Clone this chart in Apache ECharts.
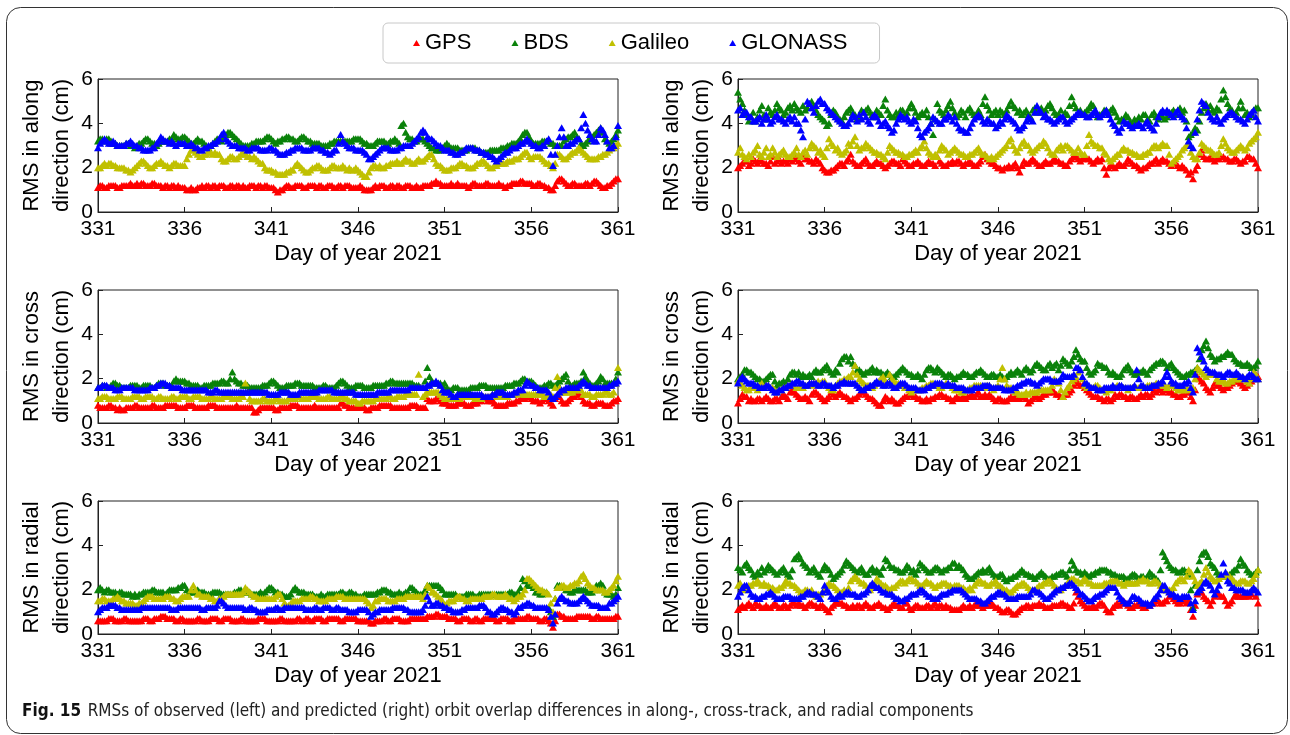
<!DOCTYPE html>
<html>
<head>
<meta charset="utf-8">
<title>Orbit overlap RMS</title>
<script src="https://cdn.jsdelivr.net/npm/echarts@6.0.0/dist/echarts.min.js"></script>
<style>
  html, body { margin: 0; padding: 0; background: #fff; }
  #chart { width: 1290px; height: 735px; }
</style>
</head>
<body>
<div id="chart"></div>
<script>
// epoch spacing in days (values start at DOY 331, 3-hourly)
var STEP = 0.125;
var dayTicks = ['331', '336', '341', '346', '351', '356', '361'];
var systems = ['GPS', 'BDS', 'Galileo', 'GLONASS'];
var sysColor = ['#ff0000', '#0a820a', '#c0c000', '#0000ff'];
var yNames = ['RMS in along\ndirection (cm)', 'RMS in cross\ndirection (cm)', 'RMS in radial\ndirection (cm)'];
var caption = 'RMSs of observed (left) and predicted (right) orbit overlap differences in along-, cross-track, and radial components';

// observed, along (cm)
var obsAlongGPS = [
  1.1,1.2,1.2,1.1,1.1,1.2,1.2,1.2,1.2,1.1,1.1,1.2,1.2,1.2,1.2,1.3,1.2,1.2,1.3,1.2,
  1.3,1.3,1.2,1.2,1.2,1.3,1.3,1.2,1.2,1.2,1.1,1.2,1.2,1.1,1.2,1.2,1.1,1.2,1.1,1.1,
  1.1,1.0,1.0,1.1,1.0,1.0,1.1,1.1,1.2,1.1,1.2,1.2,1.1,1.2,1.2,1.1,1.2,1.2,1.2,1.1,
  1.1,1.2,1.2,1.1,1.2,1.2,1.1,1.2,1.1,1.1,1.2,1.2,1.2,1.1,1.2,1.2,1.1,1.2,1.2,1.1,
  1.1,1.1,1.0,0.9,1.0,1.0,1.1,1.2,1.2,1.1,1.1,1.2,1.2,1.2,1.2,1.1,1.1,1.2,1.2,1.2,
  1.2,1.1,1.2,1.2,1.1,1.1,1.2,1.2,1.2,1.1,1.1,1.2,1.2,1.1,1.2,1.2,1.2,1.1,1.1,1.1,
  1.1,1.2,1.1,1.0,1.0,1.0,1.0,1.1,1.2,1.1,1.2,1.2,1.2,1.1,1.1,1.2,1.2,1.1,1.2,1.2,
  1.1,1.1,1.2,1.2,1.2,1.1,1.1,1.2,1.1,1.1,1.2,1.2,1.2,1.2,1.3,1.3,1.4,1.3,1.3,1.2,
  1.2,1.2,1.2,1.3,1.2,1.2,1.3,1.2,1.2,1.2,1.2,1.1,1.2,1.3,1.3,1.2,1.2,1.2,1.2,1.3,
  1.3,1.2,1.2,1.2,1.2,1.3,1.2,1.2,1.1,1.2,1.2,1.3,1.3,1.3,1.3,1.4,1.4,1.3,1.3,1.3,
  1.3,1.2,1.2,1.3,1.3,1.2,1.2,1.1,1.1,1.0,1.0,1.2,1.4,1.5,1.5,1.4,1.3,1.2,1.2,1.3,
  1.3,1.2,1.2,1.2,1.2,1.3,1.3,1.2,1.3,1.4,1.4,1.3,1.2,1.1,1.1,1.2,1.2,1.3,1.4,1.5,
  1.5];
var obsAlongBDS = [
  3.2,3.3,3.3,3.2,3.3,3.3,3.2,3.1,3.1,3.0,3.0,3.0,3.0,3.1,3.1,3.0,3.0,2.9,3.0,3.1,
  3.1,3.2,3.3,3.3,3.2,3.1,3.1,3.0,3.1,3.2,3.2,3.2,3.2,3.3,3.3,3.5,3.4,3.3,3.3,3.4,
  3.4,3.3,3.2,3.1,3.1,3.2,3.3,3.2,3.2,3.1,3.0,2.9,3.0,3.1,3.2,3.3,3.3,3.2,3.3,3.5,
  3.6,3.6,3.5,3.4,3.3,3.2,3.1,3.0,3.0,3.0,3.0,3.1,3.1,3.2,3.2,3.2,3.2,3.3,3.4,3.4,
  3.3,3.2,3.1,3.2,3.2,3.3,3.3,3.4,3.4,3.3,3.3,3.2,3.2,3.3,3.4,3.4,3.3,3.2,3.2,3.1,
  3.1,3.1,3.1,3.0,3.0,3.0,3.0,3.1,3.1,3.2,3.2,3.2,3.2,3.2,3.2,3.2,3.2,3.2,3.3,3.3,
  3.3,3.3,3.2,3.1,3.1,3.0,3.0,3.0,3.1,3.2,3.2,3.2,3.2,3.1,3.1,3.2,3.2,3.3,3.2,3.1,
  3.9,4.0,3.6,3.4,3.3,3.3,3.2,3.2,3.3,3.3,3.3,3.2,3.1,3.0,2.9,2.9,2.8,2.8,2.8,2.9,
  3.0,3.1,3.0,2.9,2.9,2.9,2.9,2.8,2.8,2.8,2.8,2.9,2.9,2.9,2.9,2.8,2.8,2.7,2.7,2.7,
  2.7,2.8,2.8,2.8,2.8,2.8,2.9,2.9,2.9,3.0,3.0,3.1,3.1,3.1,3.2,3.3,3.5,3.6,3.6,3.4,
  3.2,3.1,3.1,3.1,3.1,3.2,3.2,3.2,3.2,3.1,3.1,3.0,3.0,3.0,3.0,3.2,3.3,3.4,3.4,3.5,
  3.6,3.4,3.3,3.1,3.0,3.1,3.2,3.3,3.4,3.5,3.6,3.7,3.8,3.6,3.3,3.2,3.1,3.2,3.3,3.5,
  3.7];
var obsAlongGAL = [
  2.0,2.0,2.1,2.2,2.1,2.2,2.2,2.1,2.1,2.0,2.0,2.0,2.0,1.9,1.9,1.8,1.9,2.0,2.1,2.2,
  2.3,2.3,2.2,2.1,2.0,2.0,2.1,2.2,2.2,2.3,2.2,2.1,2.1,2.0,2.1,2.2,2.2,2.1,2.1,2.1,
  2.1,2.4,2.6,2.8,2.8,2.7,2.6,2.5,2.5,2.6,2.6,2.7,2.7,2.6,2.7,2.6,2.6,2.4,2.3,2.3,
  2.4,2.5,2.5,2.4,2.4,2.5,2.6,2.7,2.6,2.5,2.5,2.4,2.5,2.4,2.3,2.2,2.2,2.0,1.9,1.9,
  1.9,1.8,1.8,1.7,1.7,1.7,1.7,1.8,1.8,1.9,1.9,2.1,2.2,2.1,2.0,1.9,1.8,1.8,1.9,2.0,
  2.0,2.1,2.1,2.0,1.9,1.9,1.9,2.0,2.1,2.1,2.0,2.0,2.0,2.1,2.0,1.9,2.0,1.9,1.9,2.0,
  1.9,1.8,1.7,1.6,1.6,1.8,2.0,2.1,2.1,2.0,2.1,2.0,2.0,2.1,2.1,2.2,2.2,2.2,2.3,2.2,
  2.2,2.3,2.4,2.3,2.3,2.2,2.2,2.3,2.4,2.3,2.3,2.4,2.5,2.6,2.6,2.4,2.2,2.1,2.1,2.0,
  1.9,1.9,1.9,2.0,2.0,2.0,2.1,2.2,2.2,2.1,2.1,2.0,2.0,2.0,2.1,2.2,2.2,2.3,2.3,2.2,
  2.1,2.0,2.0,2.1,2.1,2.2,2.2,2.2,2.2,2.3,2.3,2.3,2.4,2.4,2.4,2.5,2.6,2.7,2.7,2.5,
  2.4,2.5,2.5,2.5,2.5,2.4,2.3,2.2,2.2,2.1,2.0,2.2,2.6,2.6,2.5,2.4,2.4,2.5,2.6,2.7,
  2.7,2.8,2.9,2.8,2.7,2.6,2.5,2.4,2.4,2.4,2.4,2.5,2.5,2.6,2.6,2.7,2.8,2.9,2.9,3.0,
  3.1];
var obsAlongGLO = [
  2.9,3.1,3.2,3.3,3.2,3.1,3.1,3.2,3.1,3.0,3.0,3.0,3.0,3.1,3.1,3.2,3.1,3.0,3.0,2.9,
  2.9,2.8,2.8,2.8,2.8,2.9,2.9,3.1,3.2,3.4,3.3,3.2,3.2,3.1,3.2,3.1,3.0,3.1,3.1,3.1,
  3.1,3.0,3.0,3.1,3.0,2.9,2.9,2.8,2.8,2.9,2.9,3.0,3.0,3.1,3.1,3.2,3.3,3.5,3.6,3.3,
  3.2,3.1,3.0,3.0,3.0,2.9,2.9,2.9,2.9,2.8,2.8,2.9,2.9,2.9,2.9,2.8,2.8,2.8,2.8,2.9,
  2.9,2.8,2.8,2.7,2.6,2.6,2.6,2.7,2.7,2.8,2.8,2.9,2.9,2.9,2.9,2.8,2.8,2.8,2.8,2.9,
  2.9,2.9,2.9,2.8,2.8,2.7,2.7,2.6,2.7,2.8,2.8,3.1,3.5,3.2,3.1,3.0,2.9,2.9,2.9,2.8,
  2.8,2.8,2.8,2.7,2.6,2.4,2.4,2.5,2.6,2.7,2.8,2.9,2.9,2.9,2.9,2.8,2.8,2.8,2.8,2.9,
  2.9,3.0,3.0,3.0,3.0,3.1,3.2,3.3,3.4,3.6,3.7,3.6,3.4,3.3,3.3,3.2,3.1,3.0,3.0,2.9,
  2.8,2.8,2.8,2.7,2.7,2.6,2.6,2.7,2.7,2.8,2.9,2.9,2.9,2.9,2.8,2.8,2.8,2.7,2.7,2.6,
  2.6,2.5,2.5,2.4,2.3,2.4,2.5,2.6,2.7,2.7,2.8,2.9,2.9,2.9,3.0,3.1,3.1,3.2,3.3,3.2,
  3.1,3.0,3.0,2.9,2.9,3.0,3.0,3.2,3.3,2.6,2.1,2.6,3.0,3.4,3.8,3.4,3.0,3.0,3.1,3.1,
  3.2,3.3,3.3,3.8,4.4,4.0,3.7,3.5,3.3,3.2,3.2,3.5,3.8,3.7,3.5,3.2,2.9,2.9,3.0,3.4,
  3.9];

// predicted, along (cm)
var predAlongGPS = [
  2.0,2.1,2.2,2.3,2.3,2.1,2.2,2.4,2.3,2.2,2.4,2.3,2.2,2.2,2.1,2.3,2.5,2.2,2.3,2.4,
  2.2,2.3,2.3,2.2,2.4,2.3,2.4,2.5,2.3,2.2,2.6,2.4,2.4,2.3,2.3,2.2,2.4,2.3,2.2,2.0,
  1.9,1.8,1.8,1.9,1.9,2.0,2.1,2.2,2.2,2.1,2.3,2.4,2.6,2.3,2.2,2.1,2.1,2.2,2.3,2.4,
  2.2,2.1,2.1,2.2,2.3,2.2,2.2,2.1,2.0,2.1,2.2,2.3,2.3,2.2,2.2,2.1,2.4,2.3,2.2,2.1,
  2.1,2.2,2.2,2.3,2.2,2.1,2.1,2.2,2.3,2.2,2.2,2.1,2.5,2.3,2.2,2.1,2.1,2.2,2.2,2.3,
  2.2,2.3,2.3,2.2,2.1,2.2,2.2,2.3,2.2,2.1,2.1,2.2,2.3,2.5,2.6,2.4,2.3,2.2,2.2,2.1,
  2.0,2.0,1.9,2.0,2.0,2.1,2.0,2.1,2.2,2.0,1.8,2.1,2.3,2.2,2.2,2.3,2.4,2.3,2.2,2.1,
  2.1,2.2,2.3,2.2,2.2,2.3,2.4,2.3,2.3,2.2,2.2,2.1,2.1,2.3,2.4,2.5,2.5,2.4,2.3,2.4,
  2.5,2.4,2.4,2.3,2.2,2.3,2.4,2.3,2.4,2.0,1.7,2.0,2.1,2.1,2.0,2.1,2.2,2.1,2.1,2.2,
  2.4,2.3,2.2,2.1,2.1,2.0,1.9,2.0,2.0,2.1,2.2,2.2,2.3,2.4,2.2,2.3,2.4,2.3,2.3,2.2,
  2.1,2.2,2.2,2.1,2.0,2.1,2.0,1.9,1.7,1.8,1.5,1.9,2.1,2.6,2.8,2.5,2.4,2.4,2.5,2.4,
  2.3,2.4,2.4,2.5,2.5,2.4,2.4,2.3,2.3,2.4,2.4,2.3,2.2,2.3,2.3,2.5,2.5,2.4,2.4,2.2,
  2.0];
var predAlongBDS = [
  5.4,5.1,4.9,4.6,4.4,4.1,4.3,4.5,4.1,4.3,4.6,4.8,4.4,4.2,4.7,4.5,4.4,4.6,4.9,4.7,
  4.6,4.4,4.5,4.7,4.8,4.6,4.9,4.7,4.6,4.5,4.8,4.6,4.7,4.9,5.0,4.8,4.6,4.4,4.3,4.2,
  4.1,3.9,4.0,4.4,4.6,4.5,4.3,4.2,4.1,4.3,4.5,4.6,4.7,4.5,4.4,4.2,4.3,4.6,4.5,4.6,
  4.7,4.5,4.4,4.3,4.6,4.5,4.4,4.8,5.1,4.6,4.4,4.3,4.3,4.5,4.4,4.6,4.6,4.4,4.5,4.7,
  4.9,4.7,4.5,4.3,4.4,4.5,4.4,4.6,4.3,4.0,3.5,4.2,4.9,4.6,4.5,4.4,4.6,4.8,5.0,4.7,
  4.5,4.3,4.4,4.6,4.5,4.3,4.6,4.7,4.5,4.4,4.4,4.6,4.4,4.9,5.2,4.8,4.6,4.4,4.5,4.6,
  4.4,4.6,4.5,4.4,4.6,4.8,5.0,4.8,4.7,4.5,4.6,4.4,4.5,4.6,4.4,4.3,4.6,4.7,4.5,4.6,
  4.7,4.5,4.6,4.8,4.9,4.7,4.5,4.4,4.4,4.6,4.3,4.5,4.4,4.8,5.2,4.9,4.7,4.5,4.6,4.4,
  4.5,4.6,4.7,4.9,4.8,4.5,4.3,4.4,4.4,4.6,4.6,4.5,4.6,4.7,4.5,4.3,4.1,4.2,4.2,4.4,
  4.3,4.1,4.0,4.2,4.1,4.3,4.2,4.4,4.4,4.2,4.1,4.4,4.5,4.3,4.2,4.4,4.3,4.2,4.3,4.5,
  4.5,4.6,4.4,4.6,4.7,4.5,4.6,4.1,3.4,3.5,3.6,3.8,3.7,4.1,4.5,4.7,4.9,4.6,4.8,4.6,
  4.5,4.7,4.6,5.1,5.5,5.2,4.9,4.7,4.6,4.4,4.5,4.7,5.0,4.7,4.4,4.5,4.3,4.4,4.6,4.7,
  4.7];
var predAlongGAL = [
  2.7,2.9,2.6,2.5,2.4,2.6,2.5,2.7,2.8,3.0,2.6,2.5,2.7,2.9,2.5,2.6,2.9,2.7,2.5,2.6,
  2.7,2.8,2.6,2.5,2.5,2.6,2.7,2.9,2.6,2.5,2.7,2.8,2.6,2.9,3.1,3.0,2.9,2.7,2.8,2.6,
  2.5,2.9,3.3,3.1,3.0,2.8,2.9,2.7,2.6,2.7,2.8,3.1,3.0,3.2,3.4,3.0,2.8,2.9,2.9,3.1,
  3.0,2.9,2.8,2.7,2.7,2.6,2.6,2.5,2.4,2.7,3.0,2.9,2.8,2.7,2.7,2.6,2.6,2.5,2.5,2.6,
  2.6,2.7,2.8,2.7,2.9,3.0,3.2,2.9,2.7,2.6,2.5,2.6,2.5,2.8,3.0,2.9,2.8,2.6,2.7,2.8,
  2.9,2.8,2.7,2.6,2.6,2.5,2.5,2.6,2.6,2.7,2.8,2.9,2.7,2.6,2.6,2.5,2.4,2.5,2.4,2.5,
  2.6,2.7,2.8,2.9,3.0,3.2,3.3,3.0,2.8,2.7,2.9,3.1,3.2,3.0,3.0,2.8,2.7,2.8,2.9,3.0,
  3.0,3.2,3.1,2.9,2.7,2.6,2.6,2.8,2.9,3.0,2.8,3.0,3.0,2.9,2.8,2.7,2.7,2.9,2.7,2.6,
  2.6,3.0,3.5,3.2,3.1,3.0,3.0,2.9,2.9,2.7,2.6,2.4,2.3,2.4,2.5,2.6,2.6,2.8,2.9,2.8,
  2.8,2.7,2.7,2.6,2.6,2.5,2.5,2.6,2.6,2.7,2.7,2.9,3.0,3.0,2.9,3.0,3.1,3.0,3.0,2.6,
  2.2,2.3,2.4,2.5,2.6,2.8,2.9,3.0,3.0,2.7,2.5,2.4,2.4,2.7,3.1,3.0,2.9,2.8,2.8,2.7,
  2.6,2.6,2.7,3.0,3.3,3.1,2.9,2.8,2.7,2.7,2.8,2.9,3.0,2.9,2.8,2.9,3.1,3.2,3.3,3.4,
  3.6];
var predAlongGLO = [
  4.6,4.7,4.4,4.5,4.5,4.3,4.3,4.1,4.1,4.2,4.3,4.0,4.2,4.4,4.2,4.0,4.1,4.3,4.4,4.2,
  4.2,4.1,4.0,4.2,4.3,4.1,4.3,4.0,4.0,3.7,3.4,4.2,5.0,4.9,4.7,4.5,4.8,5.0,5.1,4.9,
  4.9,4.7,4.6,4.5,4.4,4.3,4.2,4.1,4.0,3.9,3.9,4.0,4.2,4.4,4.3,4.1,4.4,4.2,4.5,4.3,
  4.1,4.0,4.3,4.4,4.3,4.1,3.9,4.0,4.1,3.9,3.8,3.6,3.7,4.0,4.2,4.4,4.3,4.2,4.3,4.1,
  4.0,4.2,4.1,3.8,3.5,3.4,3.6,3.7,3.8,4.0,4.3,4.2,4.1,4.0,4.0,4.2,4.2,4.4,4.3,4.1,
  4.3,4.0,3.8,3.7,3.7,3.6,3.6,3.8,4.0,4.2,4.3,4.4,4.3,4.1,4.0,4.2,4.1,4.0,4.0,3.8,
  3.9,4.1,4.0,4.2,4.4,4.3,4.2,4.1,4.0,3.8,3.7,3.8,3.9,4.1,4.3,4.2,4.1,4.5,4.8,4.6,
  4.5,4.3,4.4,4.2,4.2,4.1,4.0,4.1,4.2,4.3,4.3,4.1,4.0,4.1,4.2,4.3,4.4,4.5,4.5,4.4,
  4.4,4.3,4.3,4.4,4.5,4.6,4.4,4.3,4.4,4.5,4.6,4.4,4.2,4.0,3.9,3.7,3.6,3.8,4.1,4.0,
  4.0,3.9,3.8,3.9,3.9,4.0,3.9,3.8,4.0,4.1,3.9,3.8,3.7,4.0,4.3,4.5,4.6,4.5,4.6,4.5,
  4.4,4.3,4.5,4.6,4.4,4.3,4.2,3.8,3.2,3.0,2.9,3.6,4.2,4.6,5.0,4.9,4.8,4.5,4.3,4.2,
  4.1,4.3,4.1,4.0,4.2,4.3,4.4,4.5,4.5,4.4,4.3,4.2,4.2,4.1,4.0,4.2,4.4,4.5,4.6,4.3,
  4.1];

// observed, cross (cm)
var obsCrossGPS = [
  0.8,0.7,0.7,0.7,0.7,0.8,0.8,0.7,0.7,0.6,0.7,0.6,0.6,0.7,0.7,0.7,0.7,0.8,0.8,0.7,
  0.7,0.7,0.7,0.7,0.7,0.8,0.8,0.7,0.7,0.7,0.7,0.8,0.8,0.8,0.8,0.8,0.8,0.7,0.7,0.7,
  0.7,0.8,0.8,0.8,0.8,0.7,0.7,0.7,0.7,0.7,0.7,0.8,0.8,0.8,0.8,0.7,0.7,0.7,0.7,0.7,
  0.7,0.7,0.7,0.7,0.8,0.7,0.7,0.7,0.7,0.7,0.7,0.7,0.5,0.5,0.6,0.7,0.7,0.7,0.7,0.7,
  0.7,0.7,0.6,0.6,0.7,0.7,0.7,0.7,0.7,0.8,0.8,0.8,0.8,0.7,0.7,0.7,0.7,0.7,0.7,0.7,
  0.8,0.7,0.7,0.7,0.7,0.7,0.7,0.7,0.7,0.7,0.7,0.7,0.9,0.9,0.8,0.8,0.7,0.7,0.7,0.7,
  0.7,0.7,0.7,0.7,0.6,0.6,0.7,0.7,0.7,0.7,0.8,0.8,0.8,0.8,0.8,0.8,0.7,0.7,0.7,0.7,
  0.7,0.7,0.7,0.7,0.8,0.8,0.8,0.8,0.7,0.7,0.7,0.7,1.1,1.0,1.0,1.0,1.1,1.1,1.0,0.9,
  0.9,0.9,0.8,0.8,0.8,0.8,0.9,0.9,0.9,0.9,0.8,0.8,0.8,0.9,0.9,0.9,1.0,1.0,1.1,1.1,
  1.0,1.0,1.0,0.9,0.8,0.8,0.8,0.8,0.8,0.9,0.9,0.9,0.9,1.0,1.0,1.1,1.1,1.1,1.2,1.2,
  1.1,1.0,1.0,1.0,0.9,1.0,1.1,1.1,1.0,0.9,0.8,1.1,1.3,1.2,1.0,0.9,0.9,1.0,1.1,1.2,
  1.2,1.3,1.3,1.2,1.0,0.9,0.9,0.9,0.8,0.8,0.9,0.9,0.9,0.9,0.8,0.8,0.8,0.9,1.0,1.0,
  1.1];
var obsCrossBDS = [
  1.6,1.6,1.7,1.7,1.6,1.6,1.7,1.8,1.8,1.7,1.7,1.6,1.6,1.6,1.6,1.7,1.7,1.7,1.7,1.6,
  1.6,1.7,1.7,1.7,1.7,1.6,1.6,1.7,1.8,1.8,1.8,1.7,1.7,1.7,1.7,1.9,2.0,1.9,1.9,1.9,
  1.9,1.8,1.8,1.7,1.7,1.7,1.7,1.6,1.6,1.7,1.7,1.7,1.7,1.8,1.8,1.8,1.8,1.9,1.9,1.8,
  1.8,2.0,2.3,2.0,1.9,1.8,1.8,1.7,1.7,1.7,1.6,1.6,1.6,1.6,1.6,1.6,1.7,1.7,1.7,1.8,
  1.9,1.9,1.8,1.7,1.6,1.6,1.6,1.7,1.7,1.7,1.7,1.8,1.8,1.8,1.7,1.7,1.7,1.7,1.7,1.7,
  1.6,1.6,1.6,1.6,1.7,1.7,1.6,1.6,1.6,1.6,1.7,1.8,1.9,1.9,1.8,1.7,1.6,1.6,1.6,1.7,
  1.7,1.7,1.7,1.6,1.6,1.6,1.6,1.7,1.7,1.7,1.7,1.7,1.7,1.8,1.8,1.9,1.9,1.8,1.8,1.8,
  1.8,1.8,1.8,1.8,1.8,1.8,1.7,1.7,1.7,1.6,1.6,1.9,2.5,2.1,1.9,1.8,1.8,1.8,1.8,1.7,
  1.8,1.6,1.5,1.5,1.6,1.6,1.6,1.5,1.5,1.5,1.5,1.5,1.6,1.6,1.6,1.6,1.7,1.7,1.7,1.7,
  1.6,1.6,1.6,1.6,1.6,1.6,1.6,1.6,1.7,1.7,1.7,1.7,1.8,1.8,1.8,1.9,2.0,2.0,1.9,1.9,
  1.9,1.8,1.7,1.6,1.6,1.6,1.7,1.7,1.8,1.8,1.7,1.7,1.8,1.9,2.0,2.1,2.2,1.9,1.7,1.7,
  1.8,1.8,1.8,1.9,2.3,2.1,1.9,1.8,1.7,1.7,1.8,1.9,2.1,2.0,1.8,1.8,1.8,1.8,1.8,2.0,
  2.3];
var obsCrossGAL = [
  1.1,1.1,1.2,1.2,1.2,1.1,1.1,1.1,1.1,1.2,1.2,1.2,1.1,1.1,1.1,1.1,1.2,1.2,1.2,1.2,
  1.1,1.1,1.2,1.2,1.2,1.2,1.1,1.1,1.2,1.2,1.1,1.1,1.1,1.1,1.2,1.2,1.1,1.1,1.2,1.2,
  1.2,1.2,1.1,1.1,1.2,1.2,1.2,1.2,1.1,1.1,1.1,1.1,1.2,1.2,1.1,1.1,1.1,1.1,1.2,1.2,
  1.2,1.2,1.1,1.1,1.1,1.1,1.2,1.2,1.8,1.4,1.1,1.0,1.0,1.0,1.0,1.0,1.1,1.1,1.0,1.0,
  1.0,1.0,1.1,1.1,1.0,1.0,1.0,1.0,1.1,1.1,1.1,1.1,1.2,1.2,1.1,1.1,1.1,1.1,1.2,1.2,
  1.2,1.2,1.1,1.1,1.1,1.1,1.2,1.2,1.1,1.1,1.1,1.1,1.2,1.2,1.1,1.1,1.0,1.0,1.0,1.0,
  0.9,0.9,1.0,1.0,1.0,1.0,1.0,1.0,1.1,1.1,1.1,1.1,1.1,1.1,1.2,1.2,1.1,1.1,1.2,1.2,
  1.2,1.2,1.3,1.3,1.3,1.3,1.3,1.3,2.2,1.6,1.2,1.3,1.4,1.4,1.4,1.4,1.4,1.4,1.3,1.2,
  1.1,1.1,1.1,1.1,1.1,1.1,1.1,1.1,1.2,1.2,1.2,1.2,1.2,1.2,1.1,1.1,1.1,1.1,1.2,1.2,
  1.2,1.2,1.3,1.3,1.2,1.2,1.2,1.2,1.2,1.2,1.3,1.3,1.3,1.3,1.4,1.4,1.3,1.3,1.3,1.3,
  1.3,1.3,1.3,1.3,1.3,1.3,1.2,1.2,1.3,1.3,1.2,1.6,2.1,1.6,1.4,1.4,1.4,1.4,1.4,1.4,
  1.5,1.5,1.5,1.5,1.3,1.3,1.3,1.3,1.2,1.2,1.3,1.3,1.3,1.3,1.4,1.4,1.3,1.3,1.4,1.8,
  2.5];
var obsCrossGLO = [
  1.6,1.6,1.7,1.7,1.7,1.6,1.6,1.6,1.5,1.5,1.5,1.6,1.6,1.6,1.6,1.6,1.6,1.5,1.5,1.5,
  1.5,1.5,1.5,1.5,1.6,1.6,1.6,1.7,1.7,1.8,1.8,1.8,1.7,1.7,1.6,1.6,1.6,1.6,1.6,1.5,
  1.5,1.5,1.5,1.5,1.5,1.5,1.5,1.5,1.5,1.5,1.5,1.4,1.4,1.4,1.5,1.5,1.4,1.4,1.4,1.4,
  1.4,1.4,1.4,1.4,1.4,1.4,1.4,1.4,1.4,1.4,1.4,1.4,1.4,1.4,1.4,1.4,1.4,1.4,1.4,1.3,
  1.3,1.3,1.3,1.3,1.4,1.4,1.4,1.4,1.4,1.3,1.3,1.3,1.3,1.4,1.4,1.4,1.4,1.4,1.4,1.4,
  1.4,1.4,1.5,1.5,1.5,1.5,1.5,1.5,1.5,1.4,1.4,1.4,1.4,1.4,1.4,1.4,1.4,1.4,1.4,1.3,
  1.3,1.3,1.3,1.3,1.3,1.3,1.3,1.3,1.3,1.4,1.4,1.4,1.4,1.4,1.4,1.5,1.5,1.5,1.5,1.5,
  1.5,1.5,1.5,1.5,1.6,1.6,1.6,1.6,1.6,1.6,1.6,1.6,1.7,1.7,1.8,1.8,1.9,1.8,1.7,1.5,
  1.4,1.4,1.4,1.3,1.2,1.2,1.3,1.3,1.3,1.3,1.3,1.3,1.3,1.3,1.3,1.3,1.3,1.3,1.2,1.2,
  1.2,1.2,1.3,1.3,1.4,1.4,1.4,1.4,1.3,1.3,1.3,1.3,1.4,1.4,1.5,1.5,1.5,1.7,1.9,1.8,
  1.7,1.7,1.6,1.6,1.5,1.5,1.5,1.5,1.4,1.2,1.1,1.2,1.3,1.4,1.5,1.5,1.6,1.6,1.6,1.6,
  1.6,1.6,1.7,1.8,1.9,1.8,1.7,1.7,1.6,1.6,1.6,1.6,1.6,1.6,1.6,1.6,1.7,1.7,1.8,1.8,
  1.9];

// predicted, cross (cm)
var predCrossGPS = [
  0.9,1.1,1.3,1.2,1.2,1.0,1.1,1.0,1.0,1.1,1.1,1.0,1.1,1.2,1.1,1.0,1.0,1.1,1.1,1.0,
  1.2,1.3,1.2,1.1,1.4,1.5,1.4,1.3,1.2,1.1,1.1,1.2,1.1,1.0,1.3,1.4,1.4,1.3,1.2,1.1,
  1.0,1.1,1.2,1.4,1.3,1.2,1.3,1.4,1.3,1.2,1.2,1.1,1.0,1.1,1.1,1.2,1.3,1.4,1.4,1.3,
  1.2,1.1,1.1,1.0,0.9,0.8,0.8,1.0,1.2,1.1,1.0,1.1,1.0,0.9,0.9,1.0,1.1,1.2,1.2,1.3,
  1.3,1.2,1.2,1.1,1.1,1.0,1.0,1.1,1.0,1.1,1.1,1.2,1.2,1.3,1.3,1.2,1.2,1.1,1.1,1.0,
  1.1,1.2,1.1,1.1,1.2,1.1,1.2,1.2,1.3,1.2,1.3,1.4,1.2,1.2,1.3,1.2,1.3,1.2,1.1,1.0,
  1.1,1.1,1.0,1.0,1.0,1.1,1.2,1.1,1.2,1.1,1.1,1.2,1.2,1.1,0.9,1.0,1.1,1.2,1.2,1.1,
  1.2,1.3,1.3,1.4,1.4,1.5,1.4,1.3,1.3,1.2,1.2,1.3,1.3,1.4,1.5,1.7,1.9,1.8,1.7,1.7,
  1.6,1.5,1.4,1.3,1.2,1.2,1.2,1.1,1.1,1.0,1.1,1.1,1.0,1.1,1.3,1.2,1.3,1.3,1.2,1.2,
  1.1,1.2,1.2,1.1,1.1,1.2,1.3,1.2,1.3,1.3,1.2,1.3,1.5,1.4,1.5,1.6,1.4,1.5,1.5,1.4,
  1.4,1.3,1.3,1.2,1.2,1.3,1.3,1.4,1.4,1.2,1.0,1.5,2.1,2.0,1.9,1.8,1.6,1.5,1.4,1.6,
  1.8,1.7,1.7,1.6,1.5,1.6,1.6,1.7,1.8,1.9,1.9,1.9,1.8,1.7,1.6,1.7,1.8,1.9,2.0,2.2,
  2.1];
var predCrossBDS = [
  2.0,2.1,2.2,2.4,2.4,2.3,2.3,2.2,2.1,2.0,2.0,1.9,1.9,2.0,2.1,2.2,2.2,1.9,1.7,1.8,
  1.8,1.9,1.8,2.0,2.2,2.3,2.3,2.2,2.3,2.1,2.2,2.1,2.1,2.2,2.1,2.3,2.4,2.3,2.3,2.4,
  2.5,2.6,2.4,2.3,2.2,2.4,2.3,2.7,2.9,3.0,3.0,2.8,3.0,2.7,2.6,2.4,2.4,2.3,2.2,2.3,
  2.3,2.4,2.5,2.3,2.4,2.3,2.3,2.2,2.2,2.3,2.2,2.1,2.1,2.2,2.3,2.4,2.5,2.4,2.3,2.2,
  2.2,2.1,2.1,2.2,2.1,2.0,2.2,2.4,2.5,2.5,2.4,2.3,2.5,2.4,2.3,2.2,2.1,2.2,2.2,2.1,
  2.0,2.1,2.1,2.2,2.3,2.2,2.2,2.1,2.1,2.2,2.3,2.3,2.4,2.3,2.2,2.1,2.1,2.2,2.2,2.1,
  2.1,2.2,2.1,2.0,2.1,2.2,2.3,2.2,2.3,2.4,2.3,2.2,2.4,2.5,2.4,2.3,2.4,2.6,2.7,2.6,
  2.5,2.4,2.4,2.6,2.7,2.5,2.6,2.7,2.4,2.6,2.9,2.8,2.7,2.6,2.8,3.0,3.3,3.1,2.9,2.8,
  2.8,2.5,2.3,2.2,2.3,2.4,2.7,2.6,2.6,2.5,2.5,2.3,2.2,2.3,2.2,2.1,2.1,2.2,2.4,2.5,
  2.6,2.4,2.3,2.2,2.2,2.3,2.3,2.4,2.3,2.2,2.4,2.5,2.6,2.7,2.7,2.8,2.8,2.7,2.5,2.6,
  2.7,2.5,2.4,2.3,2.2,2.1,2.1,2.2,2.2,2.3,2.3,2.4,2.5,2.9,3.3,3.5,3.7,3.4,3.1,3.0,
  2.8,2.9,2.9,3.0,3.0,3.1,3.2,3.1,3.1,2.9,2.8,2.7,2.7,2.6,2.6,2.7,2.6,2.5,2.5,2.6,
  2.8];
var predCrossGAL = [
  1.9,1.8,1.7,1.6,1.5,1.5,1.6,1.7,1.6,1.5,1.7,1.8,1.6,1.7,1.7,1.6,1.6,1.5,1.4,1.5,
  1.5,1.6,1.6,1.7,1.7,1.8,1.7,1.6,1.6,1.6,1.6,1.7,1.7,1.8,1.7,1.8,1.8,1.9,1.8,1.9,
  1.9,1.7,1.6,1.5,1.5,1.7,1.8,1.9,1.9,2.0,2.0,2.1,2.1,2.3,2.6,2.2,2.0,1.9,1.8,1.7,
  1.7,1.7,1.6,1.7,1.8,1.9,2.0,2.1,1.9,1.8,2.2,2.0,1.9,1.8,1.8,1.7,1.7,1.6,1.6,1.5,
  1.4,1.5,1.5,1.5,1.5,1.6,1.6,1.7,1.7,1.8,1.8,1.7,1.7,1.6,1.6,1.7,1.8,1.7,1.7,1.6,
  1.5,1.5,1.5,1.4,1.4,1.5,1.5,1.6,1.6,1.7,1.7,1.7,1.7,1.6,1.6,1.7,1.7,1.6,1.5,1.6,
  1.7,2.0,2.5,2.0,1.7,1.6,1.6,1.5,1.4,1.4,1.3,1.3,1.3,1.4,1.3,1.4,1.4,1.4,1.4,1.5,
  1.5,1.5,1.5,1.5,1.5,1.7,2.0,1.9,1.8,1.5,1.2,1.4,1.6,1.7,1.9,2.0,2.1,2.3,2.4,2.0,
  1.7,1.6,1.6,1.6,1.6,1.7,1.7,1.6,1.5,1.5,1.4,1.5,1.5,1.6,1.6,1.7,1.7,1.6,1.6,1.6,
  1.5,1.6,1.6,1.6,1.6,1.6,1.6,1.6,1.6,1.7,1.7,1.7,1.7,1.8,1.8,1.8,1.7,1.7,1.6,1.7,
  1.7,1.7,1.6,1.5,1.5,1.5,1.5,1.6,1.5,1.6,1.6,2.0,2.5,2.4,2.3,2.2,2.1,2.2,2.3,2.2,
  2.2,2.0,1.9,1.9,1.9,1.8,1.8,1.9,1.9,2.0,2.0,2.0,2.0,2.1,2.0,1.9,1.8,2.0,2.3,2.2,
  2.0];
var predCrossGLO = [
  1.8,2.0,2.1,2.0,1.9,1.8,1.8,1.8,1.7,1.7,1.6,1.6,1.6,1.7,1.7,1.6,1.5,1.4,1.4,1.5,
  1.5,1.6,1.6,1.7,1.7,1.8,1.8,1.9,1.9,1.8,1.8,1.7,1.7,1.8,1.8,1.8,1.8,1.7,1.7,1.8,
  1.8,1.7,1.7,1.7,1.6,1.7,1.7,1.8,1.8,1.9,1.8,1.8,1.8,1.8,1.8,1.7,1.6,1.5,1.5,1.6,
  1.6,1.7,1.7,1.8,1.9,1.8,1.8,1.7,1.7,1.8,1.8,1.7,1.6,1.6,1.7,1.8,1.8,1.8,1.7,1.6,
  1.6,1.6,1.6,1.5,1.5,1.5,1.5,1.6,1.6,1.7,1.7,1.8,1.8,1.8,1.8,1.7,1.7,1.8,1.7,1.7,
  1.7,1.6,1.6,1.6,1.6,1.5,1.5,1.5,1.5,1.6,1.6,1.6,1.6,1.7,1.7,1.7,1.7,1.6,1.6,1.6,
  1.6,1.6,1.6,1.5,1.5,1.5,1.5,1.6,1.6,1.7,1.7,1.8,1.8,1.9,1.9,1.9,1.8,1.8,1.7,1.8,
  1.9,2.0,2.0,2.0,2.0,1.9,1.9,1.9,1.9,2.0,2.2,2.1,2.1,2.1,2.1,2.2,2.5,2.5,2.4,2.1,
  1.8,1.8,1.7,1.6,1.6,1.6,1.5,1.5,1.5,1.6,1.6,1.6,1.6,1.7,1.6,1.6,1.7,1.7,1.6,1.6,
  1.6,1.6,1.6,1.7,2.4,2.0,1.7,1.7,1.6,1.6,1.6,1.7,1.7,1.7,1.8,1.8,1.9,2.1,2.3,2.1,
  1.9,1.8,1.8,1.7,1.7,1.7,1.8,1.8,1.9,1.6,1.4,2.2,3.4,3.2,3.0,2.8,2.5,2.4,2.3,2.3,
  2.3,2.2,2.2,2.2,2.1,2.2,2.3,2.3,2.2,2.2,2.3,2.2,2.1,2.1,2.0,2.1,2.2,2.2,2.1,2.0,
  2.0];

// observed, radial (cm)
var obsRadialGPS = [
  0.6,0.6,0.6,0.6,0.6,0.7,0.7,0.7,0.6,0.6,0.6,0.6,0.7,0.7,0.6,0.6,0.6,0.6,0.6,0.6,
  0.6,0.7,0.7,0.7,0.6,0.6,0.7,0.7,0.7,0.8,0.8,0.8,0.7,0.7,0.7,0.7,0.6,0.6,0.7,0.7,
  0.6,0.6,0.6,0.6,0.6,0.6,0.7,0.7,0.6,0.6,0.6,0.6,0.7,0.7,0.7,0.7,0.6,0.6,0.7,0.7,
  0.7,0.7,0.6,0.6,0.6,0.6,0.7,0.7,0.6,0.6,0.6,0.6,0.6,0.6,0.7,0.7,0.7,0.7,0.6,0.6,
  0.6,0.6,0.6,0.6,0.7,0.7,0.6,0.6,0.6,0.6,0.6,0.6,0.7,0.7,0.6,0.6,0.7,0.7,0.6,0.6,
  0.7,0.7,0.7,0.7,0.6,0.6,0.7,0.7,0.7,0.7,0.7,0.7,0.6,0.6,0.7,0.7,0.7,0.7,0.7,0.7,
  0.6,0.6,0.6,0.6,0.6,0.6,0.5,0.5,0.6,0.6,0.6,0.6,0.7,0.7,0.6,0.6,0.7,0.7,0.7,0.7,
  0.6,0.6,0.6,0.6,0.7,0.7,0.7,0.7,0.7,0.7,0.7,0.7,0.8,0.8,0.8,0.8,0.9,0.9,0.8,0.8,
  0.8,0.8,0.7,0.7,0.7,0.7,0.6,0.6,0.7,0.7,0.7,0.7,0.6,0.6,0.7,0.7,0.6,0.6,0.7,0.7,
  0.7,0.7,0.7,0.7,0.6,0.6,0.7,0.7,0.7,0.7,0.6,0.6,0.7,0.7,0.7,0.7,0.7,0.7,0.8,0.8,
  0.7,0.7,0.7,0.7,0.6,0.6,0.7,0.7,0.6,0.5,0.3,0.6,0.9,0.9,0.8,0.8,0.7,0.7,0.7,0.7,
  0.7,0.8,0.8,0.8,0.8,0.8,0.8,0.8,0.7,0.7,0.8,0.8,0.7,0.7,0.7,0.7,0.7,0.7,0.7,0.8,
  0.8];
var obsRadialBDS = [
  2.0,2.1,2.0,1.9,2.0,2.0,1.9,1.9,1.9,1.8,1.9,1.9,1.8,1.8,1.8,1.8,1.7,1.8,1.7,1.8,
  1.8,1.9,1.9,1.9,1.9,2.0,2.0,1.9,1.9,1.9,1.9,1.8,1.9,2.0,2.0,2.0,2.0,2.1,2.1,2.2,
  2.2,2.0,1.9,1.9,1.9,2.0,2.0,1.9,1.9,1.9,1.8,1.8,1.8,1.9,1.9,1.9,1.9,1.8,1.8,1.8,
  1.8,1.8,1.8,1.9,1.9,2.0,2.0,1.9,1.9,1.9,1.9,1.8,1.8,1.8,1.8,1.9,1.8,1.9,2.0,2.1,
  2.1,2.0,1.9,1.9,1.8,1.8,1.7,1.7,1.7,1.8,2.0,2.1,2.0,1.9,1.9,1.9,1.8,1.8,1.8,1.8,
  1.7,1.7,1.7,1.8,1.7,1.7,1.8,1.8,1.8,1.8,1.8,1.8,1.9,1.9,1.8,1.8,1.9,1.9,1.8,1.8,
  1.7,1.7,1.7,1.8,1.8,1.8,1.8,1.8,1.8,1.9,1.9,2.0,2.0,2.0,1.9,1.9,1.8,1.8,1.8,1.9,
  1.8,1.8,1.9,1.9,2.1,2.1,2.0,1.9,1.8,1.8,1.8,2.0,2.2,2.2,2.2,2.2,2.2,2.2,2.1,2.0,
  1.8,1.8,1.8,1.8,1.8,1.8,1.7,1.7,1.7,1.7,1.8,1.8,1.8,1.8,1.7,1.7,1.8,1.8,1.8,1.8,
  1.8,1.8,1.8,1.8,1.8,1.8,1.8,1.8,1.8,1.8,1.9,1.9,1.8,1.8,1.9,2.1,2.5,2.4,2.2,2.2,
  2.2,2.1,1.9,1.9,1.8,1.8,1.9,1.9,1.2,1.0,0.8,1.6,2.2,2.2,2.1,2.1,2.0,2.0,1.9,1.9,
  2.0,2.0,2.0,2.0,2.0,2.0,1.9,1.9,1.9,2.0,2.2,2.2,2.3,2.2,1.9,1.8,1.8,1.8,1.7,1.8,
  2.1];
var obsRadialGAL = [
  1.5,1.5,1.6,1.6,1.5,1.5,1.5,1.6,1.6,1.7,1.6,1.5,1.5,1.4,1.4,1.4,1.4,1.3,1.3,1.4,
  1.4,1.5,1.6,1.7,1.7,1.7,1.6,1.6,1.6,1.6,1.6,1.7,1.7,1.7,1.6,1.6,1.5,1.5,1.6,1.7,
  1.7,1.7,1.7,2.0,2.2,2.0,1.8,1.8,1.7,1.7,1.7,1.7,1.6,1.6,1.5,1.5,1.6,1.6,1.7,1.8,
  1.8,1.8,1.8,1.8,1.8,1.8,1.8,1.9,2.1,2.0,1.9,1.8,1.7,1.7,1.6,1.6,1.6,1.6,1.6,1.6,
  1.6,1.6,1.7,1.8,1.8,1.6,1.4,1.3,1.3,1.4,1.5,1.5,1.5,1.5,1.6,1.6,1.6,1.6,1.7,1.7,
  1.6,1.6,1.5,1.5,1.5,1.5,1.6,1.6,1.6,1.6,1.7,1.7,1.7,1.7,1.6,1.6,1.6,1.6,1.6,1.6,
  1.6,1.6,1.6,1.6,1.5,1.4,1.2,1.3,1.5,1.5,1.6,1.6,1.6,1.6,1.5,1.5,1.5,1.5,1.6,1.6,
  1.6,1.6,1.7,1.7,1.7,1.7,1.7,1.7,1.7,1.7,1.6,1.8,2.2,2.1,1.9,1.9,1.8,1.7,1.6,1.5,
  1.3,1.4,1.5,1.5,1.5,1.6,1.7,1.7,1.6,1.6,1.5,1.5,1.6,1.6,1.6,1.6,1.6,1.6,1.7,1.7,
  1.7,1.7,1.8,1.8,1.7,1.7,1.7,1.7,1.8,1.7,1.6,1.6,1.5,1.6,1.7,1.7,1.8,2.0,2.5,2.5,
  2.4,2.3,2.2,2.1,2.0,2.0,1.9,1.9,1.8,1.4,1.0,1.6,2.1,2.1,2.2,2.2,2.1,2.1,2.2,2.2,
  2.3,2.3,2.4,2.6,2.7,2.5,2.3,2.2,2.1,2.1,2.0,2.0,2.0,2.0,1.9,1.9,2.0,2.1,2.2,2.4,
  2.6];
var obsRadialGLO = [
  1.0,1.1,1.2,1.2,1.2,1.3,1.3,1.3,1.3,1.2,1.2,1.1,1.1,1.1,1.1,1.1,1.1,1.1,1.1,1.1,
  1.2,1.2,1.2,1.2,1.2,1.2,1.2,1.2,1.2,1.2,1.2,1.2,1.2,1.2,1.1,1.1,1.1,1.2,1.2,1.2,
  1.2,1.2,1.2,1.2,1.2,1.2,1.2,1.2,1.1,1.1,1.2,1.2,1.2,1.2,1.2,1.3,1.5,1.5,1.4,1.3,
  1.2,1.2,1.2,1.2,1.2,1.2,1.2,1.2,1.1,1.1,1.2,1.2,1.1,1.1,1.0,1.0,1.0,1.0,1.1,1.1,
  1.1,1.1,1.2,1.2,1.1,1.1,1.2,1.2,1.2,1.2,1.2,1.2,1.2,1.2,1.2,1.2,1.1,1.1,1.1,1.1,
  1.2,1.2,1.1,1.1,1.2,1.2,1.2,1.2,1.1,1.1,1.2,1.2,1.1,1.1,1.1,1.1,1.0,1.0,1.0,1.0,
  1.1,1.1,1.1,1.1,1.1,1.0,0.8,0.9,1.0,1.0,1.1,1.1,1.1,1.1,1.1,1.1,1.2,1.2,1.2,1.2,
  1.2,1.2,1.1,1.1,1.0,1.0,1.0,1.0,1.0,1.0,1.1,1.3,1.7,1.5,1.3,1.3,1.4,1.4,1.3,1.3,
  1.2,1.2,1.1,1.1,1.0,1.0,1.0,1.0,1.1,1.1,1.2,1.2,1.2,1.2,1.2,1.2,1.3,1.3,1.3,1.2,
  1.0,1.0,0.9,0.9,1.0,1.1,1.2,1.2,1.1,1.1,1.0,1.0,0.9,1.0,1.2,1.2,1.3,1.3,1.4,1.4,
  1.3,1.3,1.2,1.2,1.2,1.2,1.2,1.2,1.1,0.8,0.5,0.9,1.4,1.6,1.7,1.6,1.5,1.5,1.4,1.4,
  1.4,1.4,1.5,1.6,1.7,1.6,1.5,1.4,1.3,1.3,1.3,1.3,1.2,1.2,1.2,1.2,1.4,1.4,1.5,1.6,
  1.7];

// predicted, radial (cm)
var predRadialGPS = [
  1.1,1.2,1.3,1.2,1.3,1.4,1.3,1.2,1.4,1.3,1.3,1.2,1.2,1.3,1.2,1.2,1.3,1.4,1.3,1.2,
  1.2,1.3,1.3,1.2,1.3,1.4,1.4,1.3,1.4,1.3,1.3,1.2,1.3,1.4,1.4,1.3,1.3,1.2,1.3,1.3,
  1.2,1.1,1.0,1.2,1.3,1.4,1.4,1.4,1.4,1.3,1.3,1.2,1.2,1.3,1.2,1.3,1.3,1.2,1.3,1.4,
  1.3,1.2,1.2,1.3,1.3,1.4,1.3,1.2,1.2,1.1,1.2,1.3,1.4,1.3,1.3,1.2,1.2,1.4,1.4,1.2,
  1.1,1.2,1.3,1.3,1.2,1.2,1.2,1.3,1.3,1.2,1.3,1.4,1.2,1.3,1.3,1.2,1.3,1.2,1.2,1.1,
  1.1,1.1,1.1,1.2,1.3,1.2,1.2,1.3,1.2,1.3,1.4,1.3,1.3,1.2,1.3,1.3,1.3,1.4,1.3,1.2,
  1.2,1.1,1.0,1.0,1.1,1.1,1.0,0.9,0.9,1.0,1.1,1.2,1.2,1.3,1.3,1.2,1.3,1.3,1.3,1.4,
  1.3,1.3,1.2,1.2,1.2,1.3,1.3,1.3,1.3,1.4,1.4,1.3,1.3,1.2,1.2,1.4,1.9,1.7,1.5,1.4,
  1.3,1.2,1.2,1.2,1.3,1.2,1.3,1.4,1.4,1.3,1.1,1.0,1.0,1.2,1.3,1.4,1.3,1.4,1.5,1.4,
  1.3,1.2,1.2,1.3,1.3,1.4,1.3,1.2,1.2,1.3,1.3,1.4,1.4,1.5,1.5,1.4,1.4,1.5,1.5,1.7,
  1.8,1.6,1.5,1.4,1.4,1.5,1.5,1.4,1.5,1.1,0.8,1.3,1.8,1.9,1.9,1.7,1.6,1.5,1.3,1.5,
  1.7,1.8,1.8,1.7,1.7,1.5,1.3,1.4,1.5,1.7,1.8,1.7,1.7,1.7,1.7,1.8,1.7,1.8,2.0,1.7,
  1.4];
var predRadialBDS = [
  3.0,2.9,2.8,3.1,3.2,3.0,2.9,2.7,2.6,2.8,2.7,3.0,2.8,2.9,3.1,3.0,2.9,2.8,2.7,2.8,
  2.9,3.0,2.8,2.7,2.6,2.9,3.4,3.5,3.6,3.4,3.2,3.1,3.0,2.8,2.9,3.0,2.8,2.7,2.6,2.9,
  3.1,3.0,2.9,2.7,2.5,2.6,2.7,2.8,2.9,3.1,3.3,3.2,3.1,3.0,2.9,2.8,2.9,3.0,2.8,2.7,
  2.7,2.9,3.0,2.8,2.9,2.8,2.7,3.0,3.4,3.3,3.1,3.0,3.0,2.9,2.9,2.8,2.8,2.9,3.1,3.0,
  2.8,2.9,2.7,2.9,3.2,3.1,3.0,2.9,2.8,2.8,2.9,3.0,3.0,2.9,2.8,2.9,2.9,3.0,3.0,3.2,
  3.2,3.0,3.1,3.0,2.9,2.7,2.6,2.5,2.5,2.6,2.7,2.8,2.8,2.9,2.8,2.9,3.0,2.8,2.7,2.6,
  2.6,2.7,2.7,2.5,2.4,2.5,2.5,2.6,2.6,2.7,2.8,2.9,2.8,2.7,2.7,2.6,2.6,2.5,2.6,2.7,
  2.8,2.7,2.6,2.5,2.5,2.6,2.6,2.7,2.7,2.8,2.8,2.7,2.6,2.9,3.3,3.1,2.9,2.8,2.8,2.7,
  2.8,2.7,2.6,2.7,2.7,2.8,2.8,2.9,2.9,2.9,2.9,2.8,2.8,2.7,2.7,2.6,2.6,2.6,2.6,2.5,
  2.5,2.6,2.7,2.7,2.6,2.5,2.6,2.6,2.5,2.6,2.8,2.7,2.6,2.5,2.4,2.9,3.7,3.5,3.3,3.1,
  3.0,2.9,2.9,2.8,2.8,2.9,2.9,2.8,2.7,2.0,1.2,2.2,2.9,3.3,3.6,3.7,3.7,3.5,3.2,3.1,
  3.0,2.8,2.7,2.6,2.6,2.6,2.6,2.7,2.8,2.9,2.9,3.1,3.4,3.2,3.1,2.9,2.8,2.7,2.7,2.8,
  2.9];
var predRadialGAL = [
  2.2,2.3,2.1,2.0,2.1,2.2,2.2,2.3,2.3,2.4,2.3,2.2,2.3,2.2,2.2,2.1,2.1,2.0,2.0,2.1,
  2.1,2.2,2.4,2.3,2.3,2.2,2.2,2.1,2.0,1.9,1.9,2.0,2.0,1.9,2.0,1.8,1.7,1.8,1.8,1.9,
  2.0,2.2,2.3,2.2,2.2,2.1,2.0,1.9,1.9,2.0,1.9,2.1,2.4,2.5,2.6,2.5,2.4,2.3,2.3,2.2,
  2.0,2.0,2.1,2.3,2.5,2.4,2.3,2.2,2.2,2.1,2.0,2.1,2.1,2.2,2.3,2.4,2.4,2.3,2.4,2.5,
  2.5,2.4,2.4,2.3,2.2,2.2,2.3,2.4,2.3,2.3,2.2,2.1,2.2,2.2,2.3,2.3,2.3,2.2,2.2,2.1,
  2.2,2.2,2.2,2.1,2.1,2.0,2.0,2.1,2.0,2.2,2.3,2.4,2.4,2.3,2.3,2.2,2.2,2.3,2.3,2.4,
  2.2,2.2,2.1,2.0,2.0,1.9,1.9,2.0,2.1,2.2,2.2,2.3,2.3,2.2,2.1,2.0,2.0,2.0,2.1,2.2,
  2.2,2.3,2.3,2.4,2.4,2.3,2.2,2.1,2.0,2.0,2.1,2.2,2.3,2.4,2.5,2.5,2.4,2.4,2.3,2.4,
  2.5,2.4,2.3,2.3,2.2,2.2,2.2,2.2,2.2,2.3,2.3,2.3,2.4,2.4,2.4,2.4,2.3,2.3,2.2,2.3,
  2.3,2.3,2.3,2.3,2.3,2.4,2.4,2.5,2.4,2.4,2.3,2.3,2.4,2.4,2.3,2.2,2.1,2.0,2.0,2.0,
  2.0,2.1,2.3,2.4,2.5,2.5,2.4,2.6,2.9,2.8,2.6,2.4,2.2,2.3,2.4,2.7,3.0,2.8,2.6,2.5,
  2.4,2.4,2.5,2.6,2.6,2.7,2.7,2.6,2.5,2.4,2.3,2.3,2.4,2.4,2.4,2.3,2.3,2.4,2.5,2.7,
  2.9];
var predRadialGLO = [
  1.7,1.9,2.1,2.2,2.2,2.0,1.8,1.7,1.7,1.6,1.6,1.7,1.7,1.8,1.8,1.9,1.8,1.7,1.6,1.6,
  1.6,1.7,1.7,1.7,1.7,1.6,1.6,1.6,1.6,1.7,1.7,1.8,1.9,1.9,1.8,1.8,1.8,1.7,1.6,1.9,
  2.2,2.0,1.9,1.7,1.6,1.6,1.7,1.8,1.7,1.8,1.9,1.9,1.8,1.8,1.8,1.7,1.7,1.8,1.8,1.9,
  2.0,2.2,2.3,2.2,2.1,2.1,2.0,1.9,1.9,1.8,1.8,1.8,1.7,1.6,1.6,1.5,1.5,1.6,1.6,1.7,
  1.8,1.8,1.8,1.9,2.0,2.0,1.9,1.8,1.7,1.7,1.6,1.6,1.6,1.7,1.8,1.8,1.8,1.9,1.9,2.0,
  2.0,2.0,2.0,2.0,1.9,1.8,1.7,1.6,1.6,1.6,1.6,1.5,1.5,1.4,1.4,1.5,1.6,1.7,1.7,1.8,
  1.9,1.9,1.8,1.8,1.7,1.6,1.6,1.6,1.6,1.7,1.7,1.7,1.7,1.7,1.7,1.8,2.0,2.0,1.9,1.9,
  1.8,1.7,1.6,1.6,1.7,1.8,1.9,2.0,2.0,2.1,2.1,2.2,2.2,2.3,2.3,2.2,2.1,2.0,1.8,1.8,
  1.7,1.6,1.5,1.5,1.6,1.7,1.7,1.8,1.8,1.9,2.0,2.1,2.1,2.1,2.1,1.9,1.7,1.6,1.5,1.4,
  1.4,1.5,1.7,1.7,1.6,1.6,1.5,1.4,1.4,1.4,1.3,1.4,1.6,1.7,1.8,2.0,2.2,2.2,2.0,1.9,
  1.8,1.8,1.7,1.7,1.6,1.7,1.7,1.7,1.7,1.4,1.1,1.5,1.9,2.0,2.1,2.3,2.4,2.3,2.2,2.0,
  1.8,2.0,2.2,2.7,3.2,2.8,2.4,2.3,2.1,2.1,2.0,2.0,2.0,2.0,1.9,1.9,1.9,2.0,2.1,2.0,
  1.9];

// 面板顺序: 左(observed) / 右(predicted), 上中下 = along / cross / radial
var panels = [
  [obsAlongGPS, obsAlongBDS, obsAlongGAL, obsAlongGLO],
  [predAlongGPS, predAlongBDS, predAlongGAL, predAlongGLO],
  [obsCrossGPS, obsCrossBDS, obsCrossGAL, obsCrossGLO],
  [predCrossGPS, predCrossBDS, predCrossGAL, predCrossGLO],
  [obsRadialGPS, obsRadialBDS, obsRadialGAL, obsRadialGLO],
  [predRadialGPS, predRadialBDS, predRadialGAL, predRadialGLO]
];

var FONT = '"Liberation Sans", Arial, Helvetica, sans-serif';
var CAP_FONT = '"Liberation Sans Narrow", "DejaVu Sans Condensed", "Liberation Sans", sans-serif';
var gridLeft = [98, 738];
var gridTop = [79, 290, 501];

var grids = [], xAxes = [], yAxes = [], series = [];
panels.forEach(function(list, g) {
  var col = g % 2, row = Math.floor(g / 2);
  grids.push({
    left: gridLeft[col], top: gridTop[row], width: 520, height: 133,
    show: true, borderColor: '#222', borderWidth: 1, backgroundColor: 'transparent',
    containLabel: false, outerBoundsMode: 'none'
  });
  xAxes.push({
    type: 'value', gridIndex: g, min: 0, max: 30, interval: 5,
    axisLine: { show: true, onZero: false, lineStyle: { color: '#222', width: 1 } },
    axisTick: { show: true, inside: true, length: 5, lineStyle: { color: '#222' } },
    axisLabel: {
      color: '#000', fontSize: 21, fontFamily: FONT, margin: 7,
      formatter: function(v) { return dayTicks[Math.round(v / 5)]; }
    },
    splitLine: { show: false },
    name: 'Day of year 2021', nameLocation: 'middle', nameGap: 31,
    nameTextStyle: { color: '#000', fontSize: 22, fontFamily: FONT }
  });
  yAxes.push({
    type: 'value', gridIndex: g, min: 0, max: 6, interval: 2,
    axisLine: { show: true, onZero: false, lineStyle: { color: '#222', width: 1 } },
    axisTick: { show: true, inside: true, length: 5, lineStyle: { color: '#222' } },
    axisLabel: { color: '#000', fontSize: 21, fontFamily: FONT, margin: 5 },
    splitLine: { show: false },
    name: yNames[row], nameLocation: 'middle', nameGap: 20,
    nameTextStyle: { color: '#000', fontSize: 22, lineHeight: 30, fontFamily: FONT }
  });
  list.forEach(function(values, s) {
    series.push({
      type: 'scatter',
      name: systems[s],
      xAxisIndex: g,
      yAxisIndex: g,
      symbol: 'triangle',
      symbolSize: [8, 7],
      itemStyle: { color: sysColor[s], opacity: 1 },
      data: values.map(function(v, i) { return [i * STEP, v]; }),
      z: 2 + s
    });
  });
});

var chart = echarts.init(document.getElementById('chart'), null, { renderer: 'canvas' });
chart.setOption({
  animation: false,
  backgroundColor: '#fff',
  textStyle: { fontFamily: FONT },
  legend: {
    data: systems.map(function(n) { return { name: n, icon: 'triangle' }; }),
    left: 383, top: 23,
    itemWidth: 7, itemHeight: 6, itemGap: 40,
    padding: [9, 32, 9, 30],
    borderColor: '#c8c8c8', borderWidth: 1, borderRadius: 5,
    textStyle: { fontSize: 22, color: '#000', fontFamily: FONT },
    selectedMode: false
  },
  grid: grids,
  xAxis: xAxes,
  yAxis: yAxes,
  series: series,
  graphic: [
    {
      type: 'rect', silent: true, z: -1,
      shape: { x: 6.5, y: 7.5, width: 1281, height: 726, r: 14 },
      style: { fill: 'none', stroke: '#333', lineWidth: 1 }
    },
    {
      type: 'text', left: 22, top: 703, silent: true,
      style: {
        text: '{b|Fig. 15}  {n|' + caption + '}',
        rich: {
          b: { fontWeight: 'bold', fontSize: 17, fontFamily: CAP_FONT, fill: '#111' },
          n: { fontSize: 17, fontFamily: CAP_FONT, fill: '#222' }
        }
      }
    }
  ]
});
</script>
</body>
</html>
